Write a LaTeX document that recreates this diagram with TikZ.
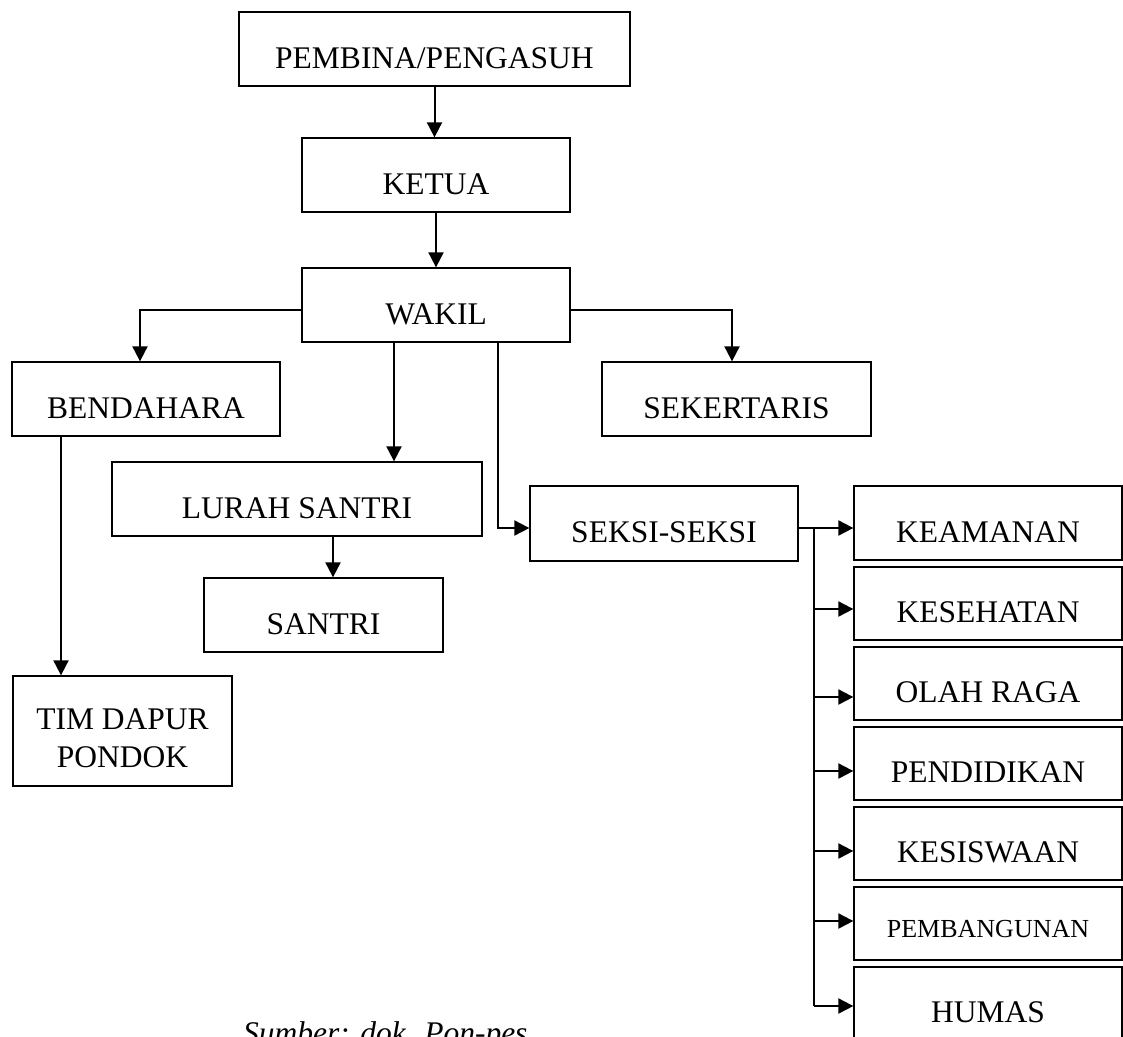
\documentclass[tikz,border=0pt]{standalone}
\usepackage{fontspec}
\setmainfont{Liberation Serif}
\usetikzlibrary{arrows.meta,calc}
\begin{document}
\begin{tikzpicture}[x=1pt,y=-1pt,
  box/.style={draw,line width=1.3pt,inner sep=0pt,text height=38pt,text depth=0pt,
    font=\fontsize{31.5}{37.8}\selectfont,minimum height=74pt},
  sidebox/.style={box,minimum width=268pt,minimum height=73pt},
  conn/.style={line width=2pt,-{Triangle[length=15pt,width=15pt]}},
  wire/.style={line width=2pt}]
\useasboundingbox (0,0) rectangle (1123,1036);

% boxes
\node[box,minimum width=391pt] (pembina) at (434.5,49) {PEMBINA/PENGASUH};
\node[box,minimum width=268pt] (ketua) at (436,175) {KETUA};
\node[box,minimum width=268pt] (wakil) at (436,305) {WAKIL};
\node[box,minimum width=268pt] (bendahara) at (146,399) {BENDAHARA};
\node[box,minimum width=269pt] (sekertaris) at (736.5,399) {SEKERTARIS};
\node[box,minimum width=370pt] (lurah) at (297,499) {LURAH SANTRI};
\node[box,minimum width=239pt] (santri) at (323.5,615) {SANTRI};
\node[box,minimum width=268pt,minimum height=75pt] (seksi) at (664,523.5) {SEKSI-SEKSI};
\node[box,minimum width=219pt,minimum height=110pt,text height=72pt] (timdapur) at (122.5,731)
  {\parbox[b]{219pt}{\centering TIM DAPUR\\PONDOK}};

\node[sidebox,minimum height=74pt] (keamanan) at (988,523) {KEAMANAN};
\node[sidebox] (kesehatan) at (988,603.5) {KESEHATAN};
\node[sidebox] (olahraga) at (988,683.5) {OLAH RAGA};
\node[sidebox] (pendidikan) at (988,763.5) {PENDIDIKAN};
\node[sidebox] (kesiswaan) at (988,843.5) {KESISWAAN};
\node[sidebox,font=\fontsize{26}{31}\selectfont,text height=27pt] (pembangunan) at (988,923.5) {PEMBANGUNAN};
\node[sidebox] (humas) at (988,1003.5) {HUMAS};

\node[font=\fontsize{31.5}{37.8}\selectfont\itshape,anchor=base west,inner sep=0pt] (caption)
  at (243,1043) {Sumber: dok. Pon-pes};

% connectors
\draw[conn] (pembina.south) -- (pembina.south |- ketua.north);
\draw[conn] (ketua.south) -- (ketua.south |- wakil.north);
\draw[conn] ([yshift=-5pt]wakil.west) -| ([xshift=-6pt]bendahara.north);
\draw[conn] ([yshift=-5pt]wakil.east) -| ([xshift=-4.5pt]sekertaris.north);
\draw[conn] ([xshift=-42pt]wakil.south) -- ([xshift=-42pt]wakil.south |- lurah.north);
\draw[conn] ([xshift=62pt]wakil.south) |- ([yshift=-4.5pt]seksi.west);
\draw[conn] ([xshift=36pt]lurah.south) -- ([xshift=36pt]lurah.south |- santri.north);
\draw[conn] ([xshift=-85pt]bendahara.south) -- ([xshift=-85pt]bendahara.south |- timdapur.north);

\coordinate (bus) at (814,528);
\coordinate (busend) at (814,1006);
\draw[conn] ([yshift=-4.5pt]seksi.east) -- ([yshift=-5pt]keamanan.west);
\draw[wire] (bus) -- (busend);
\draw[conn] (bus |- {$(kesehatan.west)+(0,5.5)$}) -- ($(kesehatan.west)+(0,5.5)$);
\draw[conn] (bus |- {$(olahraga.west)+(0,13.5)$}) -- ($(olahraga.west)+(0,13.5)$);
\draw[conn] (bus |- {$(pendidikan.west)+(0,7.5)$}) -- ($(pendidikan.west)+(0,7.5)$);
\draw[conn] (bus |- {$(kesiswaan.west)+(0,7.5)$}) -- ($(kesiswaan.west)+(0,7.5)$);
\draw[conn] (bus |- {$(pembangunan.west)+(0,-2.5)$}) -- ($(pembangunan.west)+(0,-2.5)$);
\draw[conn] (busend) -- (busend -| humas.west);
\end{tikzpicture}
\end{document}
